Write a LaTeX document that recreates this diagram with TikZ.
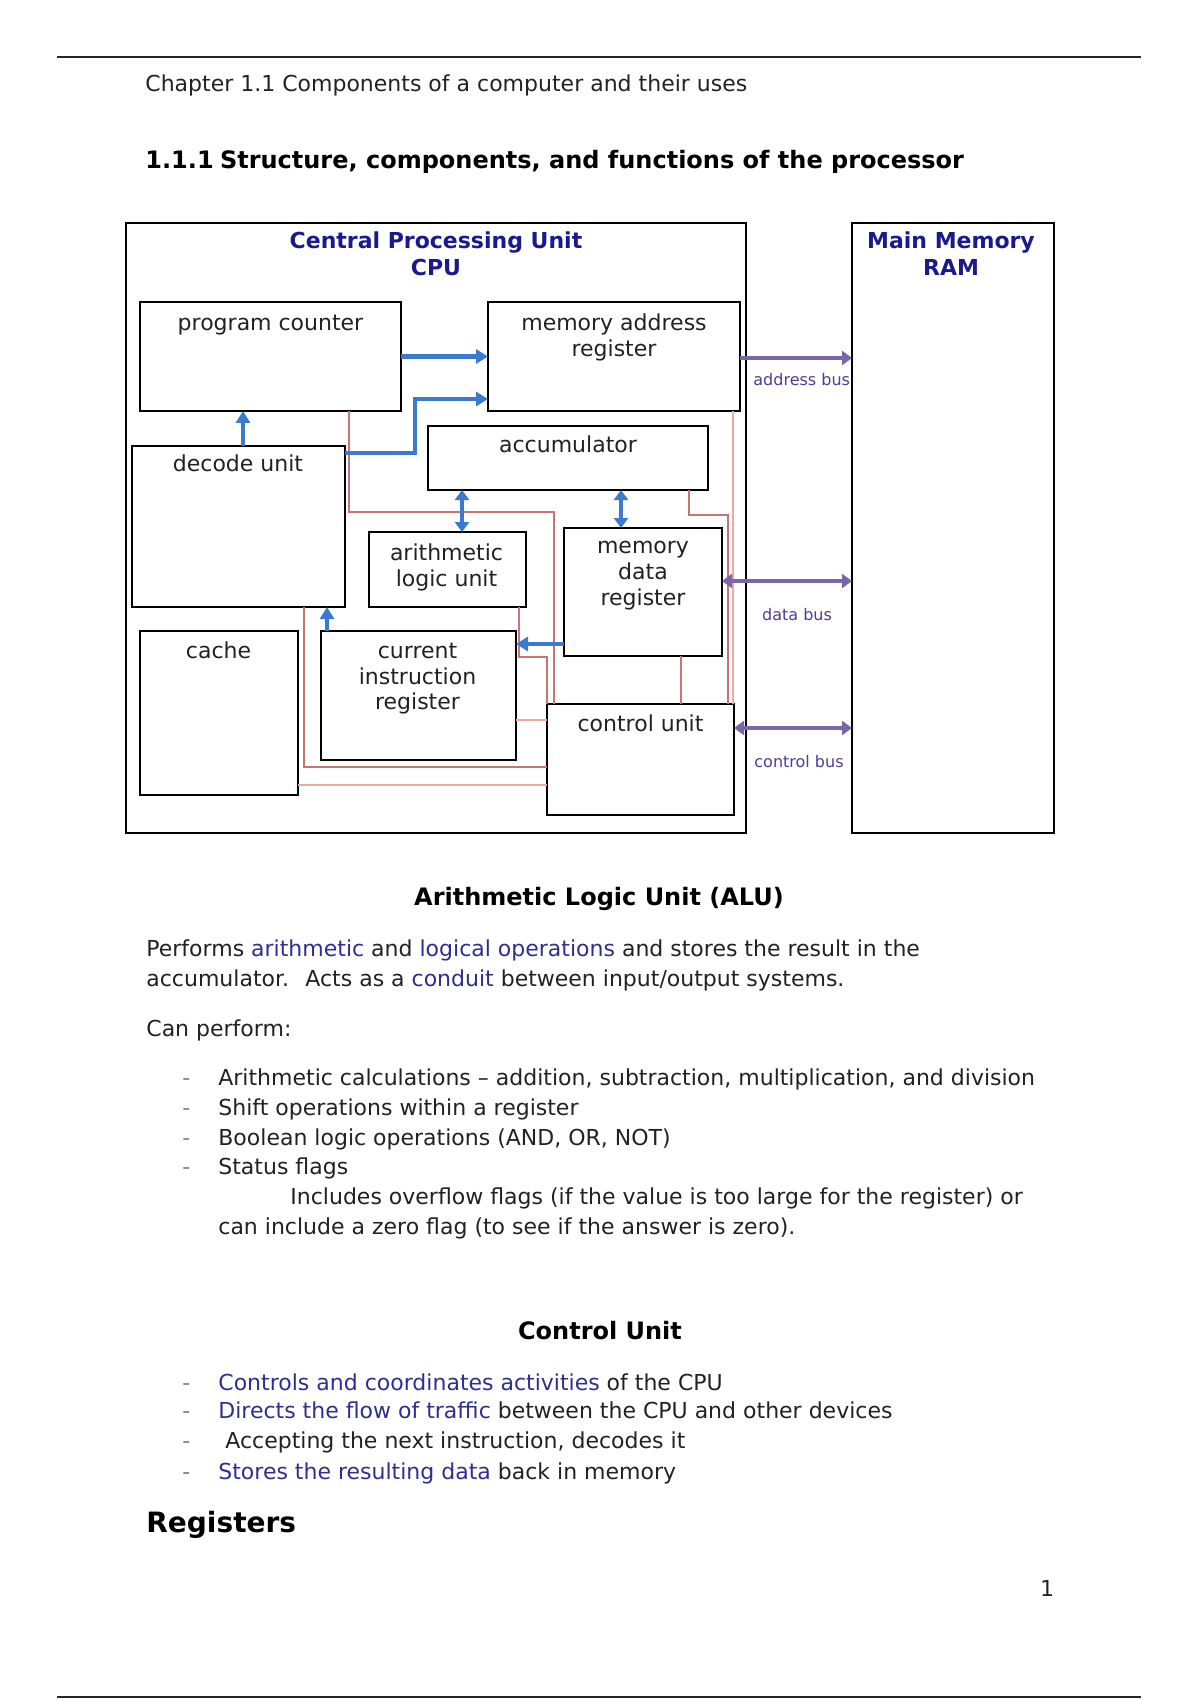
\documentclass[tikz,border=0pt]{standalone}
\usepackage{fontspec}
\setmainfont{DejaVu Sans}
\usetikzlibrary{arrows.meta,calc}
\definecolor{navy}{HTML}{1A1A8C}
\definecolor{hlc}{HTML}{2F2F92}
\definecolor{txt}{HTML}{222222}
\definecolor{arrowblue}{HTML}{3A7BCF}
\definecolor{buspurple}{HTML}{7A66A8}
\definecolor{buslabel}{HTML}{4A3F9A}
\definecolor{redline}{HTML}{C87474}
\definecolor{pinkline}{HTML}{EFA8A8}
\newcommand\hlt[1]{\textcolor{hlc}{#1}}
\begin{document}
\begin{tikzpicture}[x=0.5pt,y=-0.5pt,
  box/.style={draw=black, line width=1pt, inner sep=0pt, outer sep=0pt},
  bx/.style={font=\fontsize{11}{13}\selectfont, text=txt, inner sep=0pt, anchor=base},
  ttl/.style={font=\bfseries\fontsize{11}{13}\selectfont, text=navy, inner sep=0pt, anchor=base},
  busl/.style={font=\fontsize{8}{10}\selectfont, text=buslabel, inner sep=0pt, anchor=base},
  body/.style={font=\fontsize{11}{13}\selectfont, text=txt, inner sep=0pt, anchor=base west},
  head/.style={font=\bfseries\fontsize{12}{14}\selectfont, text=black, inner sep=0pt, anchor=base},
  bul/.style={font=\fontsize{11}{13}\selectfont, text=gray, inner sep=0pt, anchor=base west},
  barrow/.style={draw=arrowblue, line width=2.2pt, -{Triangle[length=6pt,width=7pt]}},
  bdarrow/.style={draw=arrowblue, line width=2.2pt, {Triangle[length=5pt,width=7pt]}-{Triangle[length=5pt,width=7pt]}},
  parrow/.style={draw=buspurple, line width=2pt, -{Triangle[length=5pt,width=7pt]}},
  pdarrow/.style={draw=buspurple, line width=2pt, {Triangle[length=5pt,width=7pt]}-{Triangle[length=5pt,width=7pt]}},
  redl/.style={draw=redline, line width=0.8pt},
  pinkl/.style={draw=pinkline, line width=0.8pt}
]
\fill[white] (0,0) rectangle (1200,1700);
\useasboundingbox (0,0) rectangle (1200,1700);

% page rules
\draw[line width=1pt, black!85] (57,57.5) -- (1141,57.5);
\draw[line width=1pt, black!85] (57,1697) -- (1141,1697);

\node[body] (chap) at (145,92) {Chapter 1.1 Components of a computer and their uses};
\node[head, anchor=base west] (secnum) at (145,169) {1.1.1};
\node[head, anchor=base west] (sectitle) at (219.6,169) {Structure, components, and functions of the processor};

% outer boxes
\node[box, minimum width=310pt, minimum height=305pt] (cpu) at (436,528) {};
\node[box, minimum width=101pt, minimum height=305pt] (mem) at (953,528) {};
\node[ttl] (cput1) at (436,249) {Central Processing Unit};
\node[ttl] (cput2) at (436,276) {CPU};
\node[ttl] (memt1) at (951,249) {Main Memory};
\node[ttl] (memt2) at (951,276) {RAM};

% inner boxes
\node[box, minimum width=130.5pt, minimum height=54.5pt] (pc) at (270.5,356.5) {};
\node[box, minimum width=126pt, minimum height=54.5pt] (mar) at (614,356.5) {};
\node[box, minimum width=106.5pt, minimum height=80.5pt] (dec) at (238.5,526.5) {};
\node[box, minimum width=140pt, minimum height=32pt] (acc) at (568,458) {};
\node[box, minimum width=78.5pt, minimum height=37.5pt] (alu) at (447.5,569.5) {};
\node[box, minimum width=79pt, minimum height=64pt] (mdr) at (643,592) {};
\node[box, minimum width=79pt, minimum height=82pt] (cache) at (219,713) {};
\node[box, minimum width=97.5pt, minimum height=64.5pt] (cir) at (418.5,695.5) {};
\node[box, minimum width=93.5pt, minimum height=55.5pt] (cu) at (640.5,759.5) {};

% box labels
\node[bx] (pcl) at (270.5,331) {program counter};
\node[bx] (marl1) at (614,331) {memory address};
\node[bx] (marl2) at (614,357) {register};
\node[bx] (decl) at (238,471) {decode unit};
\node[bx] (accl) at (568,452) {accumulator};
\node[bx] (alul1) at (446.5,560) {arithmetic};
\node[bx] (alul2) at (446.5,586) {logic unit};
\node[bx] (mdrl1) at (643,553) {memory};
\node[bx] (mdrl2) at (643,579) {data};
\node[bx] (mdrl3) at (643,605) {register};
\node[bx] (cachel) at (218.5,658) {cache};
\node[bx] (cirl1) at (417.5,658) {current};
\node[bx] (cirl2) at (417.5,684) {instruction};
\node[bx] (cirl3) at (417.5,709) {register};
\node[bx] (cul) at (640.5,731) {control unit};

% red control lines
\coordinate (r1) at ([xshift=39.25pt]pc.south);
\draw[redl] (r1) -- ++(0,101) -| ([xshift=-43.25pt]cu.north);
\coordinate (r2) at ([xshift=60.5pt]acc.south);
\draw[redl] (r2) -- ++(0,25) -| ([xshift=43.75pt]cu.north);
\coordinate (r3) at ([xshift=59.5pt]mar.south);
\draw[pinkl] (r3) -- (r3 |- cu.north);
\coordinate (r4) at ([xshift=19pt]mdr.south);
\draw[redl] (r4) -- (r4 |- cu.north);
\coordinate (r5) at ([xshift=35.75pt]alu.south);
\draw[redl] (r5) -- ++(0,50) -| (cu.north west);
\coordinate (r6) at ([xshift=32.75pt]dec.south);
\draw[redl] (r6) |- ([yshift=-3.75pt]cu.west);
\coordinate (r7) at ([yshift=-36pt]cache.east);
\draw[pinkl] (r7) -- (r7 -| cu.west);
\coordinate (r8) at ([yshift=-12.25pt]cir.east);
\draw[pinkl] (r8) -- (r8 -| cu.west);

% blue data paths
\draw[barrow] (pc.east) -- (mar.west);
\draw[barrow] ([yshift=-3.5pt]dec.north east) -- ++(70,0) |- ([yshift=6pt]mar.south west);
\coordinate (dup) at ([xshift=2.25pt]dec.north);
\draw[barrow] (dup) -- (dup |- pc.south);
\coordinate (aluup) at ([xshift=7.25pt]alu.north);
\draw[bdarrow] (aluup) -- (aluup |- acc.south);
\coordinate (mdrup) at ([xshift=-11pt]mdr.north);
\draw[bdarrow] (mdrup) -- (mdrup |- acc.south);
\coordinate (mdrout) at ([yshift=6pt]mdr.south west);
\draw[barrow] (mdrout) -- (mdrout -| cir.east);
\coordinate (cirup) at ([xshift=3pt]cir.north west);
\draw[barrow] (cirup) -- (cirup |- dec.south);

% buses
\coordinate (ab) at ([yshift=-0.75pt]mar.east);
\draw[parrow] (ab) -- (ab -| mem.west);
\coordinate (db) at ([yshift=5.5pt]mdr.east);
\draw[pdarrow] (db) -- (db -| mem.west);
\coordinate (cb) at ([yshift=15.75pt]cu.east);
\draw[pdarrow] (cb) -- (cb -| mem.west);
\node[busl, anchor=base west] (abl) at (753,386) {address bus};
\node[busl] (dbl) at (797,620) {data bus};
\node[busl] (cbl) at (799,767) {control bus};

% ALU section
\node[head] (aluh) at (599,905) {Arithmetic Logic Unit (ALU)};
\node[body] (t1) at (146,956) {Performs \hlt{arithmetic} and \hlt{logical operations} and stores the result in the};
\node[body] (t2) at (146,986) {accumulator.~ Acts as a \hlt{conduit} between input/output systems.};
\node[body] (t3) at (146,1036) {Can perform:};
\node[bul] (b1) at (182,1085) {-};
\node[body] (i1) at (218,1085) {Arithmetic calculations – addition, subtraction, multiplication, and division};
\node[bul] (b2) at (182,1115) {-};
\node[body] (i2) at (218,1115) {Shift operations within a register};
\node[bul] (b3) at (182,1145) {-};
\node[body] (i3) at (218,1145) {Boolean logic operations (AND, OR, NOT)};
\node[bul] (b4) at (182,1174) {-};
\node[body] (i4) at (218,1174) {Status flags};
\node[body] (i5) at (290,1204) {Includes overflow flags (if the value is too large for the register) or};
\node[body] (i6) at (218,1234) {can include a zero flag (to see if the answer is zero).};

% Control unit section
\node[head] (cuh) at (600,1339) {Control Unit};
\node[bul] (c1b) at (182,1390) {-};
\node[body] (c1) at (218,1390) {\hlt{Controls and coordinates activities} of the CPU};
\node[bul] (c2b) at (182,1418) {-};
\node[body] (c2) at (218,1418) {\hlt{Directs the flow of traffic} between the CPU and other devices};
\node[bul] (c3b) at (182,1448) {-};
\node[body] (c3) at (225,1448) {Accepting the next instruction, decodes it};
\node[bul] (c4b) at (182,1479) {-};
\node[body] (c4) at (218,1479) {\hlt{Stores the resulting data} back in memory};

\node[font=\bfseries\fontsize{14}{16}\selectfont, inner sep=0pt, anchor=base west] (regh) at (146,1532) {Registers};
\node[bx] (pgnum) at (1047,1596) {1};
\end{tikzpicture}
\end{document}
